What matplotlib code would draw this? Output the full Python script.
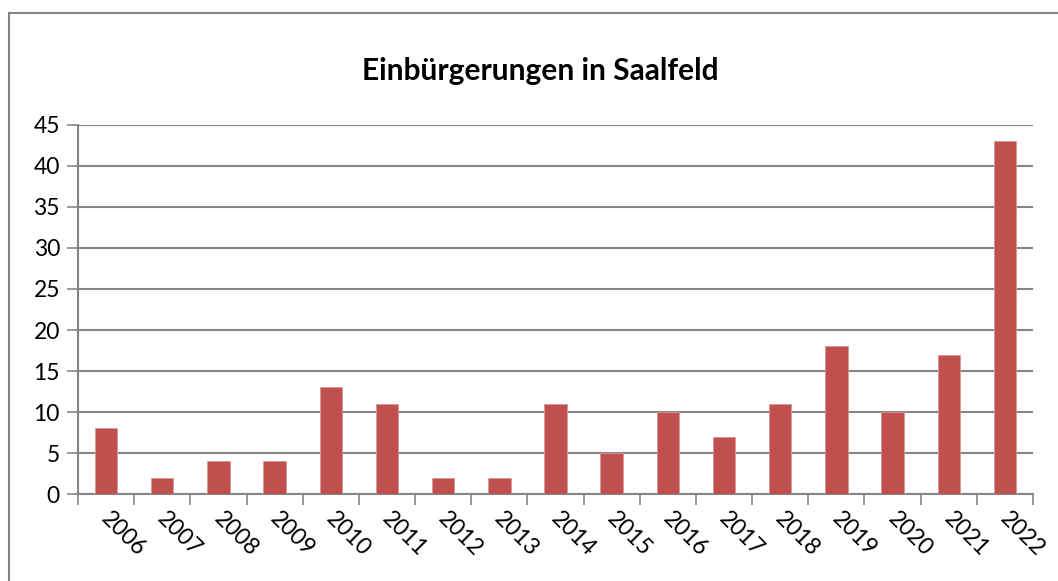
import matplotlib
matplotlib.use("Agg")
import matplotlib.pyplot as plt
import matplotlib.transforms as mtransforms
from matplotlib.lines import Line2D
import numpy as np

years = ['2006', '2007', '2008', '2009', '2010', '2011', '2012', '2013', '2014',
         '2015', '2016', '2017', '2018', '2019', '2020', '2021', '2022']
counts = [8, 2, 4, 4, 13, 11, 2, 2, 11, 5, 10, 7, 11, 18, 10, 17, 43]
title = 'Einbürgerungen in Saalfeld'

plt.rcParams['font.family'] = ['Lato', 'DejaVu Sans']

fig = plt.figure(figsize=(10.58, 5.81), dpi=100)
ax = fig.add_axes([0.0737, 0.1497, 0.9764 - 0.0737, 0.7849 - 0.1497])

x = np.arange(len(years))
ax.bar(x, counts, width=0.4, color='#C0504D', edgecolor='#D99694', linewidth=0.6, zorder=3)

ax.set_xlim(-0.5, len(years) - 0.5)
ax.set_ylim(0, 45)
ax.set_yticks(range(0, 50, 5))
ax.tick_params(axis='y', labelsize=16.5, length=8, width=1.2, color='#868686', pad=5)
ax.yaxis.grid(True, color='#868686', linewidth=1.5, zorder=0)

# ticks between categories, labels at centres
ax.set_xticks(np.arange(-0.5, len(years), 1.0))
ax.set_xticklabels([])
ax.set_xticks(x, minor=True)
ax.set_xticklabels(years, minor=True, rotation=-45, ha='left', va='top',
                   rotation_mode='anchor', fontsize=16.5)
ax.tick_params(axis='x', which='minor', length=0, pad=10)
ax.tick_params(axis='x', which='major', length=8, width=1.2, color='#868686')

# nudge year labels a little to the right, like excel does
shift = mtransforms.ScaledTranslation(6 / 100, 0, fig.dpi_scale_trans)
for lbl in ax.get_xticklabels(minor=True):
    lbl.set_transform(lbl.get_transform() + shift)

for s in ['top', 'right']:
    ax.spines[s].set_visible(False)
for s in ['left', 'bottom']:
    ax.spines[s].set_color('#868686')
    ax.spines[s].set_linewidth(1.5)

fig.text(0.511, 0.878, title, ha='center', va='center', fontsize=21.5, fontweight='bold')

# outer chart frame (clipped at right and bottom)
fx = 8.5 / 1058
fy = 1 - 13 / 581
fig.add_artist(Line2D([fx, fx], [0, fy], transform=fig.transFigure, color='#868686', lw=1.5))
fig.add_artist(Line2D([fx, 1], [fy, fy], transform=fig.transFigure, color='#868686', lw=1.5))

fig.savefig('out.png', dpi=100)
